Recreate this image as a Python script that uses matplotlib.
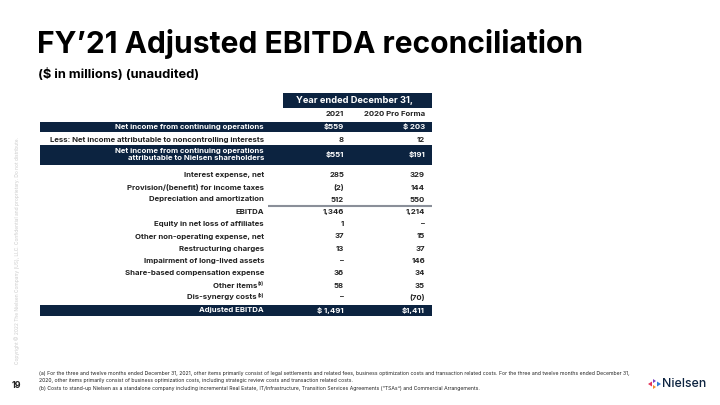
import matplotlib
matplotlib.use("Agg")
import matplotlib.pyplot as plt
from matplotlib.patches import Rectangle, Polygon

# ---------------- data ----------------
title = "FY\u201921 Adjusted EBITDA reconciliation"
subtitle = "($ in millions) (unaudited)"
header = "Year ended December 31,"
col_labels = ["2021", "2020 Pro Forma"]
row_labels = [
    "Net income from continuing operations",
    "Less: Net income attributable to noncontrolling interests",
    "Net income from continuing operations\nattributable to Nielsen shareholders",
    "Interest expense, net",
    "Provision/(benefit) for income taxes",
    "Depreciation and amortization",
    "EBITDA",
    "Equity in net loss of affiliates",
    "Other non-operating expense, net",
    "Restructuring charges",
    "Impairment of long-lived assets",
    "Share-based compensation expense",
    "Other items",
    "Dis-synergy costs",
    "Adjusted EBITDA",
]
row_sup = ["", "", "", "", "", "", "", "", "", "", "", "", "(a)", "(b)", ""]
vals_2021 = ["$559", "8", "$551", "285", "(2)", "512", "1,346", "1", "37", "13",
             "\u2013", "36", "58", "\u2013", "$ 1,491"]
vals_2020 = ["$ 203", "12", "$191", "329", "144", "550", "1,214", "\u2013", "15", "37",
             "146", "34", "35", "(70)", "$1,411"]
dark_rows = [0, 2, 14]
footnotes = [
    "(a) For the three and twelve months ended December 31, 2021, other items primarily consist of legal settlements and related fees, business optimization costs and transaction related costs. For the three and twelve months ended December 31,",
    "2020, other items primarily consist of business optimization costs, including strategic review costs and transaction related costs.",
    "(b) Costs to stand-up Nielsen as a standalone company including incremental Real Estate, IT/Infrastructure, Transition Services Agreements (\u201cTSAs\u201d) and Commercial Arrangements.",
]
copyright_text = "Copyright \u00a9 2022 The Nielsen Company (US), LLC. Confidential and proprietary. Do not distribute."
page_no = "19"

# ---------------- style ----------------
NAVY = "#0c2340"
FONT = ["Inter", "DejaVu Sans"]
plt.rcParams['font.family'] = FONT

fig = plt.figure(figsize=(7.2, 4.05), dpi=100)
ax = fig.add_axes([0, 0, 1, 1])
ax.set_xlim(0, 720)
ax.set_ylim(405, 0)
ax.axis('off')

# titles
ax.text(37, 44, title, fontsize=21.6, fontweight='bold', color='black', va='center', ha='left')
ax.text(38, 74, subtitle, fontsize=9.3, fontweight='bold', color='black', va='center', ha='left')

# table geometry
x_left, x_right = 40, 432
x_lab = 264
x_c1 = 344
x_c2 = 425
fs = 5.6

# header
ax.add_patch(Rectangle((283, 93), x_right - 283, 15, color=NAVY, lw=0))
ax.text(355, 100.5, header, fontsize=6.7, fontweight='bold', color='white', ha='center', va='center')
ax.text(x_c1, 113.5, col_labels[0], fontsize=fs, fontweight='bold', color='#222222', ha='right', va='center')
ax.text(x_c2, 113.5, col_labels[1], fontsize=fs, fontweight='bold', color='#222222', ha='right', va='center')

row_y = [127, 140, 155, 175, 187.5, 199.5, 212, 224, 236.5, 249, 261, 273, 285.5, 297.5, 310]
row_h = [10.5, 0, 20, 0, 0, 0, 0, 0, 0, 0, 0, 0, 0, 0, 11]

for i, lab in enumerate(row_labels):
    y = row_y[i]
    dark = i in dark_rows
    c = 'white' if dark else '#222222'
    if dark:
        ax.add_patch(Rectangle((x_left, y - row_h[i] / 2), x_right - x_left, row_h[i], color=NAVY, lw=0))
    ax.text(x_lab - (7 if row_sup[i] else 0), y, lab, fontsize=fs, fontweight='bold', color=c,
            ha='right', va='center', multialignment='right', linespacing=1.2)
    if row_sup[i]:
        ax.text(x_lab - 6.5, y - 1.5, row_sup[i], fontsize=3.3, fontweight='bold', color=c, ha='left', va='center')
    ax.text(x_c1, y, vals_2021[i], fontsize=fs, fontweight='bold', color=c, ha='right', va='center')
    ax.text(x_c2, y, vals_2020[i], fontsize=fs, fontweight='bold', color=c, ha='right', va='center')

# line above EBITDA
ax.plot([268, x_right], [205.5, 205.5], color='#8a8f99', lw=1.5, solid_capstyle='butt')

# footnotes
for k, fn in enumerate(footnotes):
    ax.text(39, 373.5 + k * 7.3, fn, fontsize=3.7, color='#222222', ha='left', va='center')

# page number and copyright
ax.text(16, 385, page_no, fontsize=6.5, fontweight='bold', color='#222222', ha='center', va='center')
ax.text(17, 250, copyright_text, fontsize=3.5, color='#cccccc', rotation=90, ha='center', va='center')

# Nielsen logo
lx, ly = 648, 384
ax.add_patch(Polygon([[lx, ly], [lx + 4, ly - 2.5], [lx + 4, ly + 2.5]], color='#e5335a', lw=0))
ax.add_patch(Polygon([[lx + 5, ly - 5], [lx + 8, ly - 3], [lx + 5, ly - 1]], color='#7b3fc4', lw=0))
ax.add_patch(Polygon([[lx + 5, ly + 1], [lx + 8, ly + 3], [lx + 5, ly + 5]], color='#f28c28', lw=0))
ax.add_patch(Polygon([[lx + 9, ly - 2.5], [lx + 13, ly], [lx + 9, ly + 2.5]], color='#2f7fd8', lw=0))
ax.text(lx + 14, ly, "Nielsen", fontsize=8.9, color=NAVY, ha='left', va='center', fontweight='medium')

fig.savefig("out.png", dpi=100)
